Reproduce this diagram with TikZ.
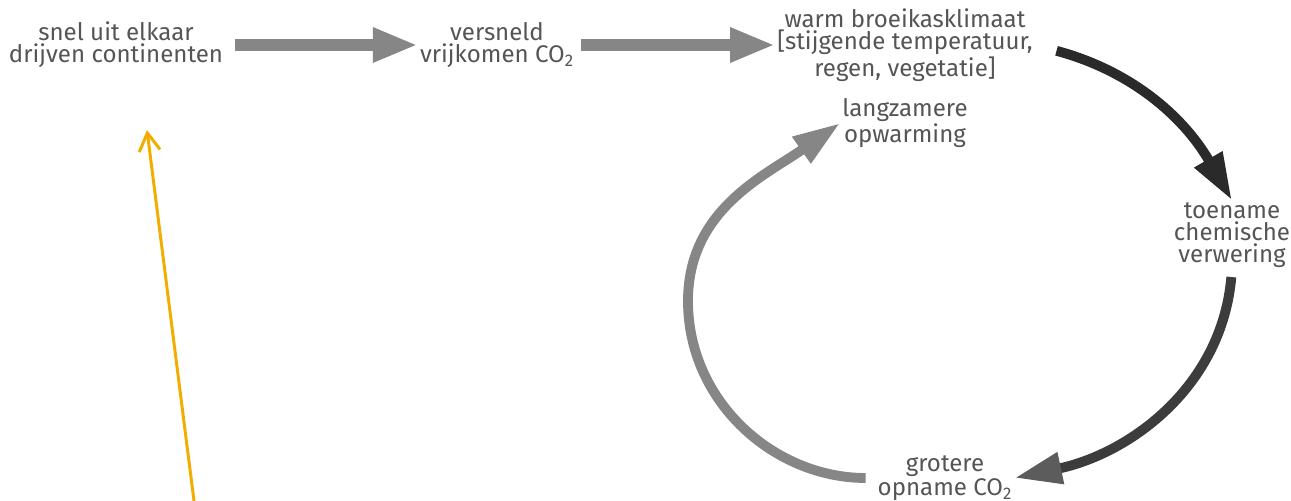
\documentclass[tikz,border=0pt]{standalone}
\usepackage{fontspec}
\setmainfont{Fira Sans}
\usetikzlibrary{arrows.meta}

\definecolor{txtgray}{HTML}{555555}
\definecolor{arrgray}{HTML}{868686}
\definecolor{arrdark}{HTML}{2A2A2A}
\definecolor{arrmid}{HTML}{3C3C3C}
\definecolor{tipgray}{HTML}{5C5C5C}
\definecolor{marker}{HTML}{F2AE00}

\tikzset{
  lbl/.style={align=center, text=txtgray, inner sep=1pt,
    font=\fontsize{13.7}{12.5}\selectfont},
  fat/.style={line width=6.8pt, -{Triangle[length=0.9cm, width=0.64cm]}},
  bent/.style={line width=5.6pt, -{Triangle[length=0.95cm, width=0.6cm]}},
}

\begin{document}
\begin{tikzpicture}
%\draw[step=1cm,gray,very thin] (0,0) grid (25.82,10.02); %background grid
\useasboundingbox (0,0) rectangle (25.82,10.02);

\node[lbl] (drift) at (2.32,9.12) {snel uit elkaar\\drijven continenten};
\node[lbl] (release) at (9.94,9.12) {versneld\\vrijkomen CO\textsubscript{2}};
\node[lbl] (green) at (18.10,9.12) {warm broeikasklimaat\\{[}stijgende temperatuur,\\regen, vegetatie{]}};
\node[lbl] (slow) at (18.10,7.56) {langzamere\\opwarming};
\node[lbl] (weather) at (24.64,5.32) {toename\\chemische\\verwering};
\node[lbl] (uptake) at (18.90,0.46) {grotere\\opname CO\textsubscript{2}};

\draw[fat,arrgray,shorten <=0.2cm] (drift) -- (release);
\draw[fat,arrgray,shorten <=0.1cm] (release) -- (green);

\draw[bent,arrdark,shorten <=0.45cm] (green.east) to[out=-15,in=120] (weather.north);
\draw[bent,arrmid,-{Triangle[length=0.95cm,width=0.6cm,color=tipgray]},shorten <=0.15cm]
  (weather.south) to[out=-95,in=12] (uptake.east);
\draw[bent,arrgray,shorten <=0.2cm] (uptake.west) to[out=180,in=-90] (13.76,4.00)
  to[out=90,in=215] (slow.west);

\coordinate (pin) at (3.88,0);
\coordinate (pinhead) at (2.94,7.42);
\draw[marker,line width=1.7pt,-{Straight Barb[length=0.36cm,width=0.42cm]}] (pin) -- (pinhead);
\end{tikzpicture}
\end{document}
